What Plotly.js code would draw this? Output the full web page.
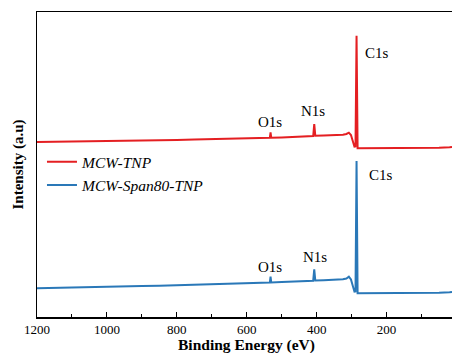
<!DOCTYPE html>
<html>
<head>
<meta charset="utf-8">
<script src="https://cdn.plot.ly/plotly-3.0.1.min.js"></script>
<style>html,body{margin:0;padding:0;background:#fff;}#chart{width:452px;height:353px;}</style>
</head>
<body>
<div id="chart"></div>
<script>
// Binding energy (eV) and intensity (a.u.)
const energyRed = [1200,1150,1100,1050,1000,950,900,850,800,750,700,650,600,560,540,534,532,530,500,460,420,410,407,404,380,350,325,315,308,302,296,292,289,286,283,270,200,150,100,50,20,13];
const intensityRed = [175.0,175.2,175.3,175.5,175.8,176.2,176.4,176.8,177.0,177.6,178.0,178.5,178.8,179.0,179.0,179.2,184.7,179.2,179.6,180.3,181.0,181.0,193.0,181.2,181.5,181.8,182.3,183.0,184.3,182.0,174.0,170.3,170.5,281.3,168.7,168.7,168.8,168.9,169.0,169.2,169.8,170.0];
const energyBlue = [1200,1150,1100,1050,1000,950,900,850,800,750,700,650,600,560,540,534,532,530,500,460,420,410,407,404,380,350,325,315,308,302,296,292,289,286,283,270,200,150,100,50,20,13];
const intensityBlue = [28.7,29.2,29.5,29.8,30.0,30.5,31.0,31.3,31.7,32.3,32.8,33.3,33.7,34.2,34.3,34.5,40.3,34.5,35.0,35.8,36.3,36.3,47.7,36.5,36.8,37.0,37.7,38.5,40.3,37.5,30.0,25.3,25.5,156.0,23.7,23.7,23.8,23.9,24.0,24.3,24.8,25.0];
const seriesNames = ["MCW-TNP", "MCW-Span80-TNP"];
const peakLabels = ["C1s", "N1s", "O1s", "C1s", "N1s", "O1s"];
const peakLabelX = [268, 410, 533, 257, 406, 533];
const peakLabelY = [264, 206, 195, 142, 60, 50];
const tickVals = [1200, 1000, 800, 600, 400, 200];
const xTitle = "Binding Energy (eV)";
const yTitle = "Intensity (a.u)";

const red = "#e41f22", blue = "#2a78b8";
const font = "Times New Roman";

const traces = [
  {x: energyRed, y: intensityRed, name: seriesNames[0], type: "scatter", mode: "lines", line: {color: red, width: 2}},
  {x: energyBlue, y: intensityBlue, name: seriesNames[1], type: "scatter", mode: "lines", line: {color: blue, width: 2}}
];

const annotations = peakLabels.map((t, i) => ({
  x: peakLabelX[i], y: peakLabelY[i], xref: "x", yref: "y", text: t, showarrow: false,
  xanchor: t === "C1s" ? "left" : "center", yanchor: "middle",
  font: {family: font, size: 15, color: "#000"}
}));
annotations.push({
  x: 0.505, y: 0, xref: "paper", yref: "paper", yshift: -17, text: "<b>" + xTitle + "</b>",
  showarrow: false, xanchor: "center", yanchor: "top", font: {family: font, size: 15.5, color: "#000"}
});
annotations.push({
  x: 0, y: 0.5, xref: "paper", yref: "paper", xshift: -19, text: "<b>" + yTitle + "</b>", textangle: -90,
  showarrow: false, xanchor: "center", yanchor: "middle", font: {family: font, size: 15, color: "#000"}
});

const layout = {
  width: 452, height: 353,
  margin: {l: 37, r: 0, t: 12, b: 36, pad: 0},
  paper_bgcolor: "#fff", plot_bgcolor: "#fff",
  font: {family: font, size: 13, color: "#000"},
  showlegend: true,
  legend: {x: 0.012, y: 0.563, xanchor: "left", yanchor: "top", bgcolor: "rgba(0,0,0,0)",
           font: {family: font, size: 15.5, color: "#000", style: "italic"}, itemwidth: 30},
  xaxis: {
    range: [1200, 13], autorange: false, automargin: false,
    tickvals: tickVals, ticktext: tickVals.map(String),
    ticks: "inside", ticklen: 5, tickwidth: 1, tickcolor: "#000",
    minor: {dtick: 100, ticks: "inside", ticklen: 3, tickcolor: "#000", showgrid: false},
    showline: true, linecolor: "#000", linewidth: 1.5, mirror: true,
    showgrid: false, zeroline: false,
    tickfont: {family: font, size: 13, color: "#000"}
  },
  yaxis: {
    range: [0, 305], autorange: false, automargin: false,
    showticklabels: false, ticks: "",
    showline: true, linecolor: "#000", linewidth: 1.5, mirror: false,
    showgrid: false, zeroline: false
  },
  annotations: annotations
};

Plotly.newPlot("chart", traces, layout, {displayModeBar: false, staticPlot: true});
</script>
</body>
</html>
